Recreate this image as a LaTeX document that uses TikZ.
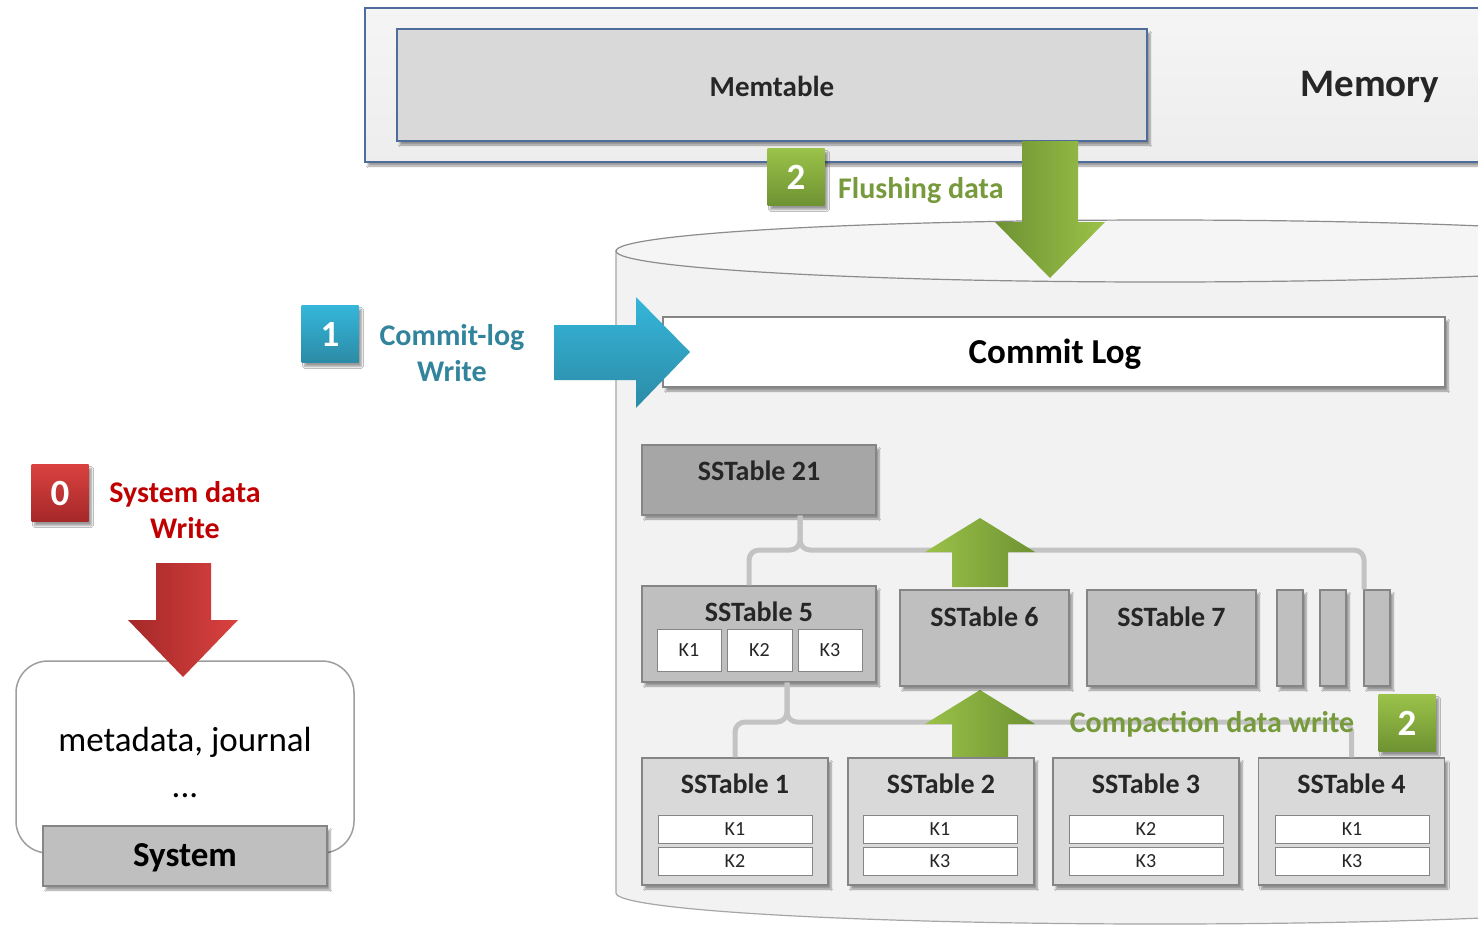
\documentclass[tikz,border=0pt]{standalone}
\usepackage{fontspec}
\setmainfont{Carlito}
\usetikzlibrary{shadows,shadows.blur,calc}
\definecolor{memborder}{HTML}{4F6D9C}
\definecolor{glight}{HTML}{9BC249}
\definecolor{gdark}{HTML}{6E9232}
\definecolor{gtext}{HTML}{779A3C}
\definecolor{blight}{HTML}{35B6DA}
\definecolor{bdark}{HTML}{2C8BA6}
\definecolor{btext}{HTML}{31849B}
\definecolor{rlight}{HTML}{D9423F}
\definecolor{rdark}{HTML}{A52829}
\definecolor{rtext}{HTML}{C00000}
\definecolor{txt}{HTML}{262626}
\definecolor{bord}{HTML}{858585}
\definecolor{conn}{HTML}{C3C3C3}
\tikzset{
  shad/.style={blur shadow={shadow xshift=3pt,shadow yshift=-4pt,shadow blur steps=6,shadow opacity=40}},
  tbox/.style={draw=bord, line width=1.2pt, shad, inner sep=0pt},
  ttl/.style={font=\bfseries\fontsize{28}{30}\selectfont, text=txt, inner sep=0pt},
  kcell/.style={draw=bord, fill=white, line width=1pt, inner sep=0pt, font=\fontsize{20}{22}\selectfont, text=txt},
  numbox/.style={shad, minimum width=57pt, minimum height=57pt, inner sep=0pt, font=\bfseries\fontsize{37}{40}\selectfont, text=white},
  lbl/.style={font=\bfseries\fontsize{30}{36}\selectfont, align=center, inner sep=0pt},
  bracket/.style={draw=conn, line width=5pt, rounded corners=10pt},
}
\begin{document}
\begin{tikzpicture}[x=1pt,y=-1pt]
\useasboundingbox (0,0) rectangle (1478,924);
\clip (0,0) rectangle (1478,924);
\fill[white] (0,0) rectangle (1478,924);

% Memory frame
\node[draw=memborder, line width=1.2pt, top color=white!96!black, bottom color=white!93!black, shad, minimum width=1135pt, minimum height=154pt, inner sep=0pt] (mem) at (932.5,85) {};
\node[draw=memborder, line width=1.2pt, fill=white!85!black, shad, minimum width=750pt, minimum height=112pt, inner sep=0pt] (memtable) at (772,85) {};
\node[font=\bfseries\fontsize{29}{32}\selectfont, text=txt] (memtablet) at (772,86) {Memtable};
\node[font=\bfseries\fontsize{39}{42}\selectfont, text=txt] (memoryt) at (1370,87) {Memory};

% Cylinder (disk)
\path[fill=white!95!black, draw=white!65!black, line width=1.2pt]
  (616,251) -- (616,893) arc[start angle=180, end angle=0, x radius=544, y radius=31] -- (1704,251) -- cycle;
\path[fill=white!96!black, draw=white!55!black, line width=1.2pt] (1160,251) ellipse [x radius=544, y radius=31];

% Flushing
\node[numbox, top color=glight, bottom color=gdark] (n2a) at (796,177) {2};
\node[lbl, text=gtext, anchor=west] (flusht) at (838,191) {Flushing data};
\coordinate (fs) at (1050,141);
\path[left color=gdark, right color=glight]
  ($(fs)+(-28,0)$) -- ($(fs)+(28,0)$) -- ($(fs)+(28,81)$) -- ($(fs)+(55,81)$) -- ($(fs)+(0,137)$) -- ($(fs)+(-55,81)$) -- ($(fs)+(-28,81)$) -- cycle;

% Commit log
\node[draw=bord, line width=1.2pt, fill=white, shad, minimum width=782pt, minimum height=70pt, inner sep=0pt] (clog) at (1054,352) {};
\node[font=\bfseries\fontsize{35}{38}\selectfont, text=black] (clogt) at (1055,354) {Commit Log};
\node[numbox, top color=blight, bottom color=bdark] (n1) at (330,334) {1};
\node[lbl, text=btext] (c1t) at (452,353) {Commit-log\\Write};
\coordinate (ca) at (554,352);
\path[top color=blight, bottom color=bdark]
  ($(ca)+(0,-27)$) -- ($(ca)+(82,-27)$) -- ($(ca)+(82,-55)$) -- ($(ca)+(136,0)$) -- ($(ca)+(82,56)$) -- ($(ca)+(82,28)$) -- ($(ca)+(0,28)$) -- cycle;

% System side
\node[numbox, top color=rlight, bottom color=rdark] (n0) at (60,493) {0};
\node[lbl, text=rtext] (c0t) at (185,510) {System data\\Write};
\node[draw=white!62!black, line width=1.5pt, fill=white, rounded corners=32pt, minimum width=338pt, minimum height=192pt, inner sep=0pt] (sysbox) at (185,757) {};
\node[font=\fontsize{35}{46}\selectfont, align=center, text=black] (syst) at (185,762) {metadata, journal\\...};
\node[draw=bord, line width=1.2pt, fill=white!75!black, shad, minimum width=284pt, minimum height=60pt, inner sep=0pt] (sysn) at (185,856) {};
\node[font=\bfseries\fontsize{35}{38}\selectfont, text=black] (sysnt) at (185,858) {System};
\coordinate (ra) at (183,563);
\path[left color=rdark, right color=rlight]
  ($(ra)+(-27,0)$) -- ($(ra)+(28,0)$) -- ($(ra)+(28,57)$) -- ($(ra)+(55,57)$) -- ($(ra)+(0,114)$) -- ($(ra)+(-55,57)$) -- ($(ra)+(-27,57)$) -- cycle;

% SSTable boxes
\node[tbox, fill=white!65!black, minimum width=234pt, minimum height=70pt] (s21) at (759,480) {};
\node[tbox, fill=white!75!black, minimum width=234pt, minimum height=96pt] (s5) at (759,634) {};
\node[tbox, fill=white!75!black, minimum width=26pt, minimum height=96pt] (b1) at (1290,638) {};
\node[tbox, fill=white!75!black, minimum width=26pt, minimum height=96pt] (b2) at (1333,638) {};
\node[tbox, fill=white!75!black, minimum width=26pt, minimum height=96pt] (b3) at (1377,638) {};
\node[tbox, fill=white!75!black, minimum width=169pt, minimum height=96pt] (s7) at (1171.5,638) {};
\foreach \n/\cx in {s1/735, s3/1146, s4/1351.5}{
  \node[tbox, fill=white!85!black, minimum width=186pt, minimum height=127pt] (\n) at (\cx,821.5) {};
}

% Brackets
\coordinate (u0) at ($(s21.south)+(41,0)$);
\draw[bracket] ([xshift=-10pt]s5.north) -- ([xshift=-10pt]s5.north |- 0,550) -- (u0 |- 0,550) -- (u0);
\draw[bracket] (u0) -- (u0 |- 0,550) -- ([xshift=-13pt]b3.north |- 0,550) -- ([xshift=-13pt]b3.north);
\coordinate (l0) at ($(s5.south)+(28,0)$);
\draw[bracket] (s1.north) -- (s1.north |- 0,722) -- (l0 |- 0,722) -- (l0);
\draw[bracket] (l0) -- (l0 |- 0,722) -- (s4.north |- 0,722) -- (s4.north);

% Up arrows (compaction)
\foreach \ay in {587,759}{
  \path[left color=glight, right color=gdark]
    (952,\ay) -- (952,\ay-35) -- (925,\ay-35) -- (980,\ay-69) -- (1035,\ay-35) -- (1008,\ay-35) -- (1008,\ay) -- cycle;
}
% tables drawn over arrow bases
\node[tbox, fill=white!75!black, minimum width=169pt, minimum height=96pt] (s6) at (984.5,638) {};
\node[tbox, fill=white!85!black, minimum width=186pt, minimum height=127pt] (s2) at (941,821.5) {};

% Titles
\node[ttl] (s21t) at ([yshift=-26pt]s21.north) {SSTable 21};
\node[ttl] (s5t) at ([yshift=-26pt]s5.north) {SSTable 5};
\node[ttl] (s6t) at ([yshift=-27pt]s6.north) {SSTable 6};
\node[ttl] (s7t) at ([yshift=-27pt]s7.north) {SSTable 7};
\node[ttl] (s1t) at ([yshift=-26pt]s1.north) {SSTable 1};
\node[ttl] (s2t) at ([yshift=-26pt]s2.north) {SSTable 2};
\node[ttl] (s3t) at ([yshift=-26pt]s3.north) {SSTable 3};
\node[ttl] (s4t) at ([yshift=-26pt]s4.north) {SSTable 4};

% Keys
\node[kcell, minimum width=64pt, minimum height=42pt] (k51) at (689,650) {K1};
\node[kcell, minimum width=65pt, minimum height=42pt] (k52) at (759.5,650) {K2};
\node[kcell, minimum width=64pt, minimum height=42pt] (k53) at (830,650) {K3};
\foreach \n/\cx/\ka/\kb in {s1/735/K1/K2, s2/940/K1/K3, s3/1146/K2/K3, s4/1352/K1/K3}{
  \node[kcell, minimum width=154pt, minimum height=28pt] (\n ka) at (\cx,829) {\ka};
  \node[kcell, minimum width=154pt, minimum height=28pt] (\n kb) at (\cx,861) {\kb};
}

% Compaction label
\node[lbl, text=gtext] (compt) at (1212,724) {Compaction data write};
\node[numbox, top color=glight, bottom color=gdark] (n2b) at (1407,723) {2};
\end{tikzpicture}
\end{document}
